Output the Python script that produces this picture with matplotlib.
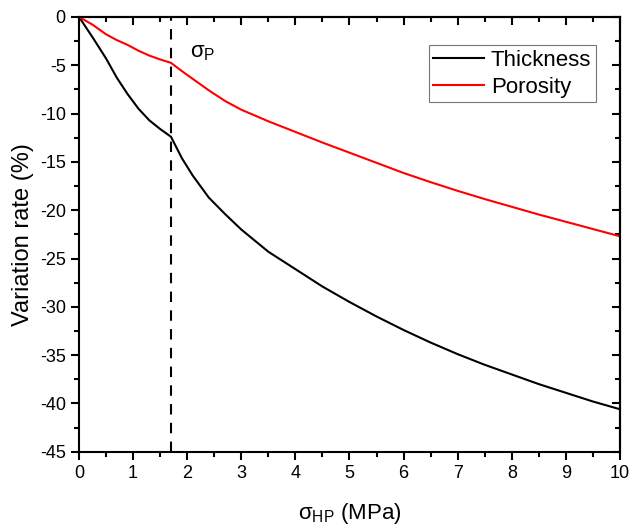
"""Variation rate of thickness and porosity vs. hot-pressing stress."""

import matplotlib
matplotlib.use("Agg")
import matplotlib.pyplot as plt
from matplotlib.ticker import MultipleLocator

plt.rcParams["font.family"] = ["Liberation Sans", "DejaVu Sans"]
plt.rcParams["mathtext.fontset"] = "custom"
plt.rcParams["mathtext.rm"] = "Liberation Sans"
plt.rcParams["mathtext.it"] = "Liberation Sans"
plt.rcParams["axes.unicode_minus"] = False

# ---------------------------------------------------------------------------
# Data
# ---------------------------------------------------------------------------
stress = [0, 0.25, 0.5, 0.7, 0.9, 1.1, 1.3, 1.5, 1.7, 1.9, 2.1, 2.4, 2.7, 3.0,
          3.5, 4, 4.5, 5, 5.5, 6, 6.5, 7, 7.5, 8, 8.5, 9, 9.5, 10]
thickness = [0, -2.1, -4.3, -6.3, -8.0, -9.5, -10.7, -11.6, -12.4, -14.6,
             -16.4, -18.7, -20.4, -22.0, -24.3, -26.1, -27.9, -29.5, -31.0,
             -32.4, -33.7, -34.9, -36.0, -37.0, -38.0, -38.9, -39.8, -40.6]
porosity = [0, -0.8, -1.8, -2.4, -2.9, -3.5, -4.0, -4.4, -4.75, -5.6,
            -6.4, -7.6, -8.7, -9.6, -10.8, -11.9, -13.0, -14.05, -15.1,
            -16.15, -17.1, -18.0, -18.85, -19.65, -20.45, -21.2, -21.95, -22.7]
sigma_p = 1.7

fig = plt.figure(figsize=(6.32, 5.29), dpi=100)
ax = fig.add_axes([0.125, 0.146, 0.856, 0.822])

ax.plot(stress, thickness, color="black", lw=1.5, label="Thickness")
ax.plot(stress, porosity, color="red", lw=1.5, label="Porosity")
ax.axvline(sigma_p, color="black", lw=1.5, ls=(0, (5, 4)))
ax.text(2.05, -4.2, r"σ$_{\mathrm{P}}$", fontsize=16, va="baseline")

ax.set_xlim(0, 10)
ax.set_ylim(-45, 0)
ax.xaxis.set_major_locator(MultipleLocator(1))
ax.xaxis.set_minor_locator(MultipleLocator(0.5))
ax.yaxis.set_major_locator(MultipleLocator(5))
ax.yaxis.set_minor_locator(MultipleLocator(2.5))

for side in ax.spines.values():
    side.set_linewidth(1.5)
ax.tick_params(which="both", width=1.5, labelsize=13)
ax.tick_params(which="major", length=6)
ax.tick_params(which="minor", length=3.5)

# mirrored ticks pointing inward on top and right
top = ax.secondary_xaxis("top")
top.xaxis.set_major_locator(MultipleLocator(1))
top.xaxis.set_minor_locator(MultipleLocator(0.5))
top.tick_params(which="both", direction="in", width=1.5, labeltop=False)
top.tick_params(which="major", length=6)
top.tick_params(which="minor", length=3.5)
right = ax.secondary_yaxis("right")
right.yaxis.set_major_locator(MultipleLocator(5))
right.yaxis.set_minor_locator(MultipleLocator(2.5))
right.tick_params(which="both", direction="in", width=1.5, labelright=False)
right.tick_params(which="major", length=6)
right.tick_params(which="minor", length=3.5)
for sec in (top, right):
    for side in sec.spines.values():
        side.set_linewidth(1.5)

ax.set_xlabel(r"σ$_{\mathrm{HP}}$ (MPa)", fontsize=16, labelpad=14)
ax.set_ylabel("Variation rate (%)", fontsize=17, labelpad=4)

leg = ax.legend(loc="upper right", bbox_to_anchor=(0.955, 0.935), fontsize=16,
                frameon=True, fancybox=False, edgecolor="#555555",
                handlelength=2.3, handletextpad=0.3, borderpad=0.2,
                labelspacing=0.28, borderaxespad=0)
leg.get_frame().set_linewidth(0.8)

fig.savefig("out.png", dpi=100)
